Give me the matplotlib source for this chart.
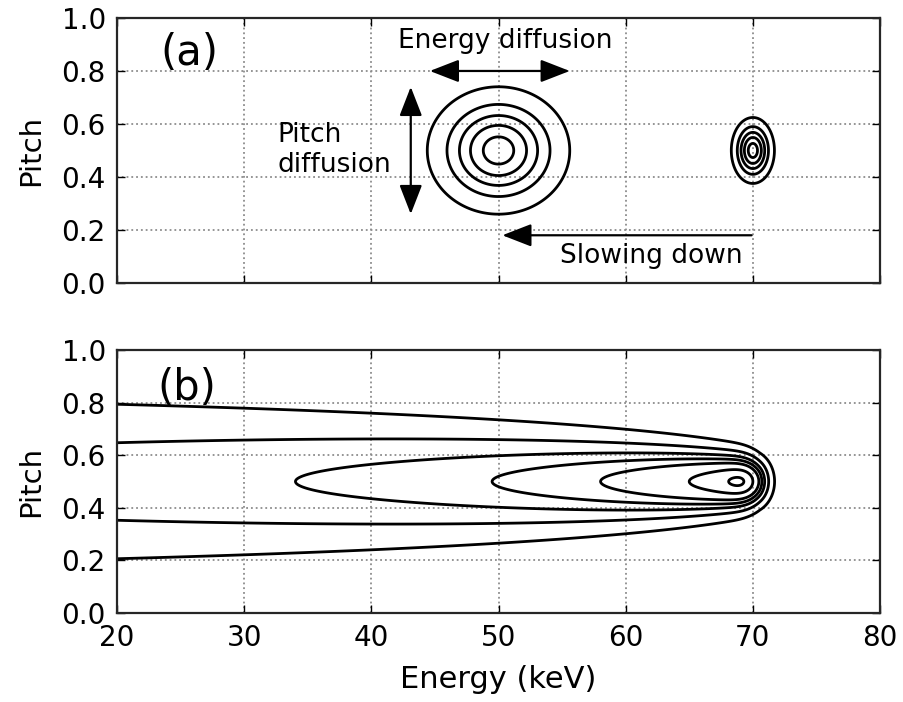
import math

import matplotlib.pyplot as plt
import numpy as np

energy_ticks = [20, 30, 40, 50, 60, 70, 80]
pitch_ticks = [0.0, 0.2, 0.4, 0.6, 0.8, 1.0]

# (a) two gaussian blobs
blob_energy = [50.0, 70.0]
blob_pitch = [0.5, 0.5]
blob_sigma_energy = [2.61, 0.79]
blob_sigma_pitch = [0.112, 0.058]
levels_a = [0.1, 0.3, 0.5, 0.7, 0.9]

# (b) slowing-down distribution from the 70 keV source
source_energy = 70.56
source_spread = 0.935
source_sigma_pitch = 0.0622
pitch_broadening = 0.2  # growth of (width/width0)^2 per keV slowed down
levels_b = [0.11, 0.233, 0.347, 0.438, 0.534, 0.688, 0.815]

plt.rcParams['font.family'] = ['DejaVu Sans']

E = np.linspace(20, 80, 1500)
P = np.linspace(0, 1, 800)
EE, PP = np.meshgrid(E, P)

field_a = np.zeros_like(EE)
for e0, p0, se, sp in zip(blob_energy, blob_pitch, blob_sigma_energy, blob_sigma_pitch):
    field_a += np.exp(-(EE - e0) ** 2 / (2 * se ** 2) - (PP - p0) ** 2 / (2 * sp ** 2))

erfc = np.vectorize(math.erfc)
S = 0.5 * erfc((E - source_energy) / (math.sqrt(2) * source_spread))
r = np.sqrt(1 + pitch_broadening * np.clip(source_energy - E, 0, None))
field_b = (S / r)[None, :] * np.exp(-(PP - 0.5) ** 2 / (2 * (source_sigma_pitch * r[None, :]) ** 2))

fig = plt.figure(figsize=(9.04, 7.02), dpi=100)
ax1 = fig.add_axes([0.1294, 0.5969, 0.8441, 0.3775])
ax2 = fig.add_axes([0.1294, 0.1268, 0.8441, 0.3746])

for ax in (ax1, ax2):
    ax.set_xlim(20, 80)
    ax.set_ylim(0, 1)
    ax.set_xticks(energy_ticks)
    ax.set_yticks(pitch_ticks)
    ax.grid(True, color='0.55', linestyle=':', linewidth=1.3)
    ax.tick_params(direction='in', top=True, right=True, length=6, width=1,
                   labelsize=20, pad=8)
    for s in ax.spines.values():
        s.set_linewidth(1.6)
        s.set_color('0.15')
    ax.set_ylabel('Pitch', fontsize=21, labelpad=12)

ax1.tick_params(labelbottom=False)
ax2.set_xlabel('Energy (keV)', fontsize=22, labelpad=9)

ax1.contour(EE, PP, field_a, levels=levels_a, colors='k', linewidths=2)
ax2.contour(EE, PP, field_b, levels=levels_b, colors='k', linewidths=2)

ax1.text(23.4, 0.823, '(a)', fontsize=30, va='baseline')
ax2.text(23.2, 0.81, '(b)', fontsize=30, va='baseline')

arrow = dict(arrowstyle='<|-|>,head_length=0.9,head_width=0.35', color='k',
             lw=1.6, shrinkA=0, shrinkB=0, mutation_scale=20)
ax1.annotate('', xy=(44.6, 0.8), xytext=(55.6, 0.8), arrowprops=arrow)
ax1.annotate('', xy=(43.1, 0.26), xytext=(43.1, 0.74), arrowprops=arrow)
ax1.annotate('', xy=(50.3, 0.18), xytext=(69.9, 0.18),
             arrowprops=dict(arrow, arrowstyle='-|>,head_length=0.9,head_width=0.35'))

ax1.text(50.5, 0.887, 'Energy diffusion', fontsize=19, ha='center', va='baseline')
ax1.text(32.6, 0.5, 'Pitch\ndiffusion', fontsize=19, ha='left', va='center')
ax1.text(69.2, 0.075, 'Slowing down', fontsize=19, ha='right', va='baseline')

fig.savefig('out.png', dpi=100)
